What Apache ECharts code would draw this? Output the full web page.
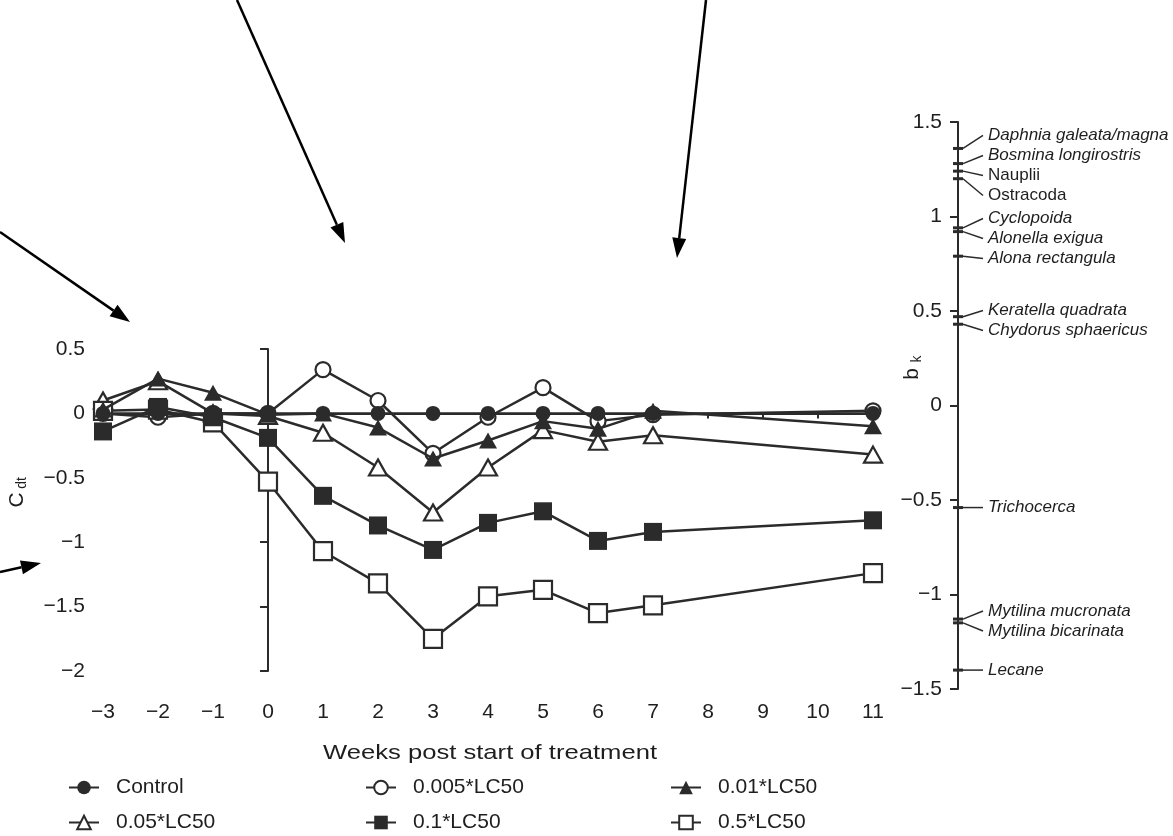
<!DOCTYPE html>
<html><head><meta charset="utf-8">
<script src="https://cdn.jsdelivr.net/npm/echarts@6/dist/echarts.min.js"></script>
<style>html,body{margin:0;padding:0;background:#fff}#c{width:1173px;height:836px}</style>
</head><body><div id="c"></div>
<script>
// ---------- data ----------
const weeks = [-3, -2, -1, 0, 1, 2, 3, 4, 5, 6, 7, 11];
const seriesNames = ['Control', '0.005*LC50', '0.01*LC50', '0.05*LC50', '0.1*LC50', '0.5*LC50'];
const control  = [0, 0, 0, 0, 0, 0, 0, 0, 0, 0, 0, 0];
const lc0005   = [0.00, -0.03, 0.00, 0.00, 0.34, 0.10, -0.31, -0.03, 0.20, -0.06, -0.01, 0.02];
const lc001    = [0.03, 0.27, 0.16, -0.01, 0.00, -0.11, -0.35, -0.21, -0.06, -0.12, 0.02, -0.10];
const lc005    = [0.10, 0.25, 0.00, -0.02, -0.15, -0.42, -0.77, -0.42, -0.13, -0.22, -0.17, -0.32];
const lc01     = [-0.14, 0.05, -0.03, -0.19, -0.64, -0.87, -1.06, -0.85, -0.76, -0.99, -0.92, -0.83];
const lc05     = [0.02, 0.03, -0.07, -0.53, -1.07, -1.32, -1.75, -1.42, -1.37, -1.55, -1.49, -1.24];

const speciesNames = ['Daphnia galeata/magna', 'Bosmina longirostris', 'Nauplii', 'Ostracoda',
  'Cyclopoida', 'Alonella exigua', 'Alona rectangula', 'Keratella quadrata', 'Chydorus sphaericus',
  'Trichocerca', 'Mytilina mucronata', 'Mytilina bicarinata', 'Lecane'];
const speciesWeights = [1.36, 1.28, 1.24, 1.20, 0.94, 0.92, 0.79, 0.47, 0.43, -0.54, -1.13, -1.15, -1.40];
const uprightNames = ['Nauplii', 'Ostracoda'];

const xAxisLabel = 'Weeks post start of treatment';

// ---------- styling ----------
const INK = '#2b2b2b';
const TXT = '#1e1e1e';
const FONT = '"Liberation Sans", Arial, Helvetica, sans-serif';
const minus = v => String(v).replace('-', '\u2212');

function mk(name, values, symbol, size, filled) {
  return {
    type: 'line', name: name,
    data: weeks.map((w, i) => [w, values[i]]),
    xAxisIndex: 0, yAxisIndex: 0, z: filled ? 3 : 2,
    symbol: symbol, symbolSize: size, showAllSymbol: true,
    lineStyle: { color: INK, width: 2.5 },
    itemStyle: filled ? { color: INK, borderColor: INK, borderWidth: 0 }
                      : { color: '#fff', borderColor: INK, borderWidth: 2.2 },
    emphasis: { disabled: true }, silent: true, animation: false
  };
}

function spread(ys, gap) {
  const order = ys.map((y, i) => i).sort((a, b) => ys[a] - ys[b]);
  let clusters = order.map(i => ({ items: [i], c: ys[i] }));
  let changed = true;
  while (changed) {
    changed = false;
    for (let k = 1; k < clusters.length; k++) {
      const p = clusters[k - 1], q = clusters[k];
      const pEnd = p.c + (p.items.length - 1) / 2 * gap;
      const qStart = q.c - (q.items.length - 1) / 2 * gap;
      if (qStart - pEnd < gap) {
        const items = p.items.concat(q.items);
        const c = items.reduce((s, i) => s + ys[i], 0) / items.length;
        clusters.splice(k - 1, 2, { items: items, c: c });
        changed = true; break;
      }
    }
  }
  const out = [];
  clusters.forEach(cl => cl.items.forEach((i, k) => { out[i] = cl.c + (k - (cl.items.length - 1) / 2) * gap; }));
  return out;
}

function arrow(x1, y1, x2, y2) {
  const L = 20, W = 7;
  const dx = x2 - x1, dy = y2 - y1, len = Math.hypot(dx, dy), ux = dx / len, uy = dy / len;
  const bx = x2 - ux * L, by = y2 - uy * L;
  return [
    { type: 'line', shape: { x1: x1, y1: y1, x2: bx, y2: by }, style: { stroke: '#000', lineWidth: 2.5 }, silent: true },
    { type: 'polygon', shape: { points: [[x2, y2], [bx - uy * W, by + ux * W], [bx + uy * W, by - ux * W]] }, style: { fill: '#000' }, silent: true }
  ];
}

function rotTitle(x, y, main, sub, dx, dy) {
  return {
    type: 'group', x: x, y: y, rotation: Math.PI / 2, silent: true,
    children: [
      { type: 'text', x: 0, y: 0, style: { text: main, font: '21px ' + FONT, fill: TXT, align: 'center', verticalAlign: 'middle' } },
      { type: 'text', x: dx, y: dy, style: { text: sub, font: '14px ' + FONT, fill: TXT, align: 'center', verticalAlign: 'middle' } }
    ]
  };
}

function legendItem(name, left, top) {
  return {
    data: [name], left: left, top: top, orient: 'horizontal',
    itemWidth: 30, itemHeight: 17, padding: 0,
    textStyle: { fontSize: 21, fontFamily: FONT, color: TXT, padding: [0, 0, 0, 12] },
    selectedMode: false
  };
}
const colLeft = [68, 365, 670];
const rowTop = [777, 812];

const chart = echarts.init(document.getElementById('c'), null, { renderer: 'canvas' });

const option = {
  backgroundColor: '#fff',
  animation: false,
  grid: [
    { left: 103, top: 349, width: 770, height: 322, containLabel: false, outerBoundsMode: 'none' },
    { left: 958, top: 122, width: 20, height: 567, containLabel: false, outerBoundsMode: 'none' }
  ],
  xAxis: [
    {
      gridIndex: 0, type: 'value', min: -3, max: 11, interval: 1,
      axisLine: { show: true, onZero: true, lineStyle: { color: INK, width: 2 } },
      axisTick: { show: true, length: 5, lineStyle: { color: INK, width: 2 } },
      axisLabel: { margin: 31, fontSize: 21, fontFamily: FONT, color: TXT, formatter: minus },
      splitLine: { show: false }
    },
    { gridIndex: 1, type: 'value', min: 0, max: 1, show: false }
  ],
  yAxis: [
    {
      gridIndex: 0, type: 'value', min: -2, max: 0.5, interval: 0.5,
      axisLine: { show: true, onZero: true, lineStyle: { color: INK, width: 2 } },
      axisTick: { show: true, length: 8, lineStyle: { color: INK, width: 2 } },
      axisLabel: { margin: 18, fontSize: 21, fontFamily: FONT, color: TXT, formatter: minus },
      splitLine: { show: false }
    },
    {
      gridIndex: 1, type: 'value', min: -1.5, max: 1.5, interval: 0.5, position: 'left',
      axisLine: { show: true, onZero: false, lineStyle: { color: INK, width: 2 } },
      axisTick: { show: true, length: 8, lineStyle: { color: INK, width: 2 } },
      axisLabel: { margin: 16, fontSize: 21, fontFamily: FONT, color: TXT, formatter: minus },
      splitLine: { show: false }
    }
  ],
  legend: [
    legendItem(seriesNames[0], colLeft[0], rowTop[0]),
    legendItem(seriesNames[1], colLeft[1], rowTop[0]),
    legendItem(seriesNames[2], colLeft[2], rowTop[0]),
    legendItem(seriesNames[3], colLeft[0], rowTop[1]),
    legendItem(seriesNames[4], colLeft[1], rowTop[1]),
    legendItem(seriesNames[5], colLeft[2], rowTop[1])
  ],
  graphic: [
    { type: 'text', x: 490, y: 753, scaleX: 1.22, style: { text: xAxisLabel, font: '21px ' + FONT, fill: TXT, align: 'center', verticalAlign: 'middle' }, silent: true },
    rotTitle(17, 500, 'C', 'dt', 17, 5),
    rotTitle(912, 374, 'b', 'k', 15, 5)
  ].concat(arrow(0, 232, 130, 322), arrow(237, 0, 345, 243), arrow(706, 0, 677, 258), arrow(0, 572, 41, 563)),
  series: [
    mk(seriesNames[0], control, 'circle', 15, true),
    mk(seriesNames[1], lc0005, 'circle', 15, false),
    mk(seriesNames[2], lc001, 'triangle', [18, 16], true),
    mk(seriesNames[3], lc005, 'triangle', [18, 16], false),
    mk(seriesNames[4], lc01, 'rect', 18, true),
    mk(seriesNames[5], lc05, 'rect', 18, false),
    {
      type: 'custom', xAxisIndex: 1, yAxisIndex: 1, silent: true, clip: false,
      data: speciesWeights.map((b, i) => [0, b, i]),
      renderItem: function (params, api) {
        const ys = speciesWeights.map(b => api.coord([0, b])[1]);
        const lys = spread(ys, 20);
        const i = api.value(2);
        const p = api.coord([0, api.value(1)]);
        const ly = lys[i];
        const italic = uprightNames.indexOf(speciesNames[i]) < 0;
        return {
          type: 'group', children: [
            { type: 'line', shape: { x1: p[0] - 5, y1: p[1], x2: p[0] + 5, y2: p[1] }, style: { stroke: INK, lineWidth: 3 } },
            { type: 'line', shape: { x1: p[0] + 5, y1: p[1], x2: p[0] + 25, y2: ly }, style: { stroke: INK, lineWidth: 1.5 } },
            { type: 'text', x: p[0] + 30, y: ly, style: { text: speciesNames[i], font: (italic ? 'italic ' : '') + '17px ' + FONT, fill: TXT, align: 'left', verticalAlign: 'middle' } }
          ]
        };
      }
    }
  ]
};
chart.setOption(option);
</script>
</body></html>
